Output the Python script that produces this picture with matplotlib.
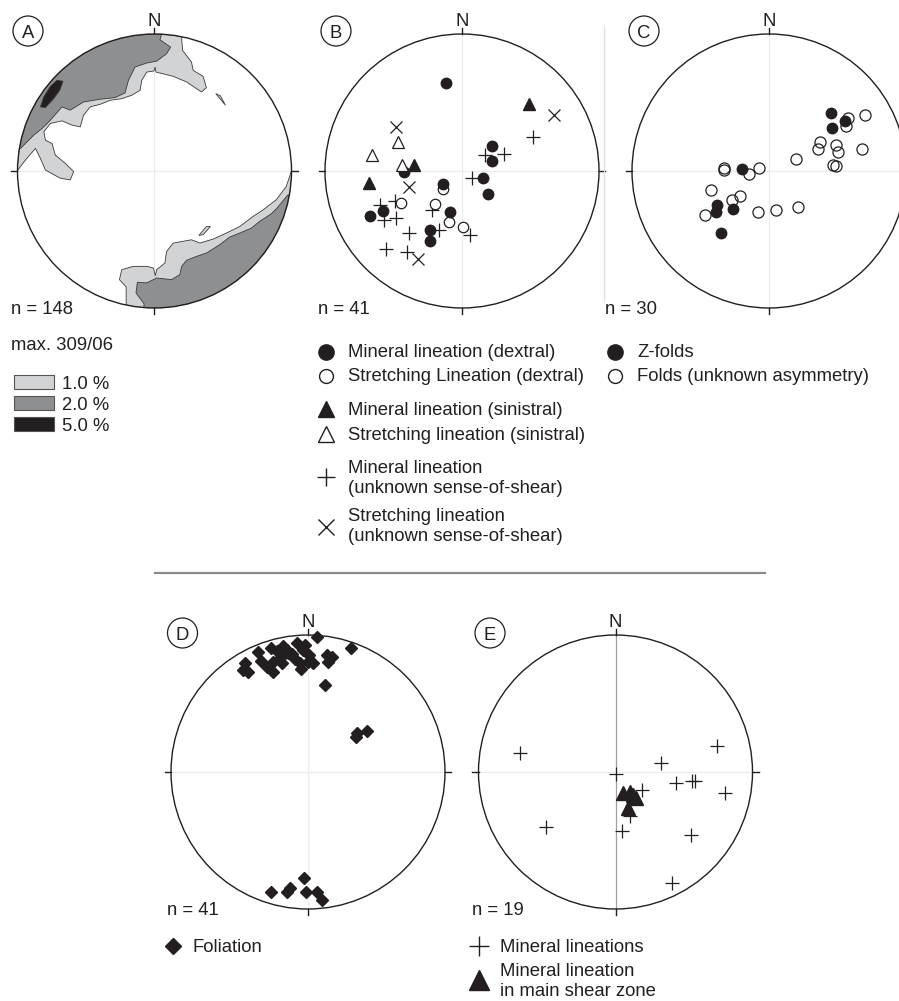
import numpy as np
import matplotlib
matplotlib.use("Agg")
import matplotlib.pyplot as plt
from matplotlib.patches import Circle, Ellipse, Polygon
from matplotlib.lines import Line2D

# ---- data: positions in the equal-area net, unit radius (east, north) ----

# B: lineations
b_min_dextral = np.array([
    (-0.12, 0.64), (0.22, 0.18), (0.22, 0.07), (0.15, -0.05), (0.19, -0.17),
    (-0.42, -0.005), (-0.14, -0.095), (-0.09, -0.30), (-0.23, -0.43),
    (-0.23, -0.51), (-0.58, -0.29), (-0.67, -0.33)])
b_str_dextral = np.array([
    (-0.14, -0.13), (-0.445, -0.23), (-0.20, -0.24), (-0.095, -0.375), (0.01, -0.41)])
b_min_sinistral = np.array([(0.49, 0.49), (-0.35, 0.044), (-0.68, -0.09)])
b_str_sinistral = np.array([(-0.47, 0.21), (-0.655, 0.12), (-0.436, 0.044)])
b_min_unknown = np.array([
    (0.52, 0.25), (0.17, 0.12), (0.31, 0.124), (0.07, -0.05), (-0.60, -0.25),
    (-0.49, -0.22), (-0.48, -0.34), (-0.57, -0.36), (-0.22, -0.285),
    (-0.17, -0.43), (-0.385, -0.455), (0.06, -0.47), (-0.555, -0.57),
    (-0.40, -0.59)])
b_str_unknown = np.array([(0.67, 0.41), (-0.48, 0.32), (-0.39, -0.12), (-0.32, -0.645)])

# C: fold axes
c_zfolds = np.array([
    (0.45, 0.425), (0.555, 0.365), (0.46, 0.316), (-0.195, 0.012),
    (-0.38, -0.25), (-0.39, -0.30), (-0.265, -0.277), (-0.35, -0.45)])
c_folds = np.array([
    (0.70, 0.41), (0.58, 0.385), (0.56, 0.33), (0.37, 0.214), (0.355, 0.158),
    (0.49, 0.19), (0.50, 0.136), (0.68, 0.163), (0.47, 0.044), (0.49, 0.036),
    (0.195, 0.085), (-0.33, 0.024), (-0.33, 0.007), (-0.144, -0.022),
    (-0.07, 0.02), (-0.42, -0.14), (-0.21, -0.18), (-0.27, -0.21),
    (-0.47, -0.32), (-0.08, -0.30), (0.05, -0.285), (0.21, -0.265)])

# D: poles to foliation
d_foliation = np.array([
    (0.068, 0.983), (0.312, 0.903), (-0.078, 0.939), (-0.022, 0.927),
    (-0.18, 0.92), (-0.27, 0.907), (-0.228, 0.883), (-0.367, 0.878),
    (-0.343, 0.812), (-0.46, 0.798), (-0.472, 0.745), (-0.436, 0.732),
    (-0.253, 0.805), (-0.204, 0.83), (-0.253, 0.732), (-0.119, 0.859),
    (-0.095, 0.823), (-0.058, 0.793), (-0.053, 0.75), (0.009, 0.854),
    (0.002, 0.805), (0.141, 0.854), (0.173, 0.837), (0.148, 0.805),
    (0.124, 0.635), (-0.144, 0.866), (-0.30, 0.769), (-0.155, 0.89),
    (-0.192, 0.793), (-0.036, 0.89), (0.036, 0.796),
    (0.428, 0.30), (0.36, 0.287), (0.35, 0.253),
    (-0.03, -0.776), (-0.13, -0.845), (-0.155, -0.874), (-0.27, -0.878),
    (-0.015, -0.878), (0.064, -0.874), (0.10, -0.934)])

# E: mineral lineations
e_min = np.array([
    (-0.695, 0.136), (0.743, 0.19), (0.33, 0.068), (0.004, -0.017),
    (0.44, -0.083), (0.556, -0.066), (0.58, -0.066), (0.80, -0.15),
    (0.19, -0.13), (0.106, -0.32), (0.05, -0.43), (-0.51, -0.40),
    (0.55, -0.46), (0.41, -0.81)])
e_shear = np.array([(0.057, -0.15), (0.106, -0.144), (0.13, -0.17),
                    (0.15, -0.19), (0.09, -0.265)])

# A: density contours (inner boundaries; the rest follows the primitive)
a_1pct_nw = np.array([
    (-0.998, 0.007), (-0.942, 0.08), (-0.869, 0.165), (-0.833, 0.092),
    (-0.796, 0.007), (-0.687, -0.053), (-0.615, -0.065), (-0.59, -0.005),
    (-0.651, 0.056), (-0.724, 0.116), (-0.748, 0.201), (-0.796, 0.225),
    (-0.808, 0.286), (-0.76, 0.347), (-0.675, 0.366), (-0.602, 0.335),
    (-0.542, 0.322), (-0.518, 0.407), (-0.469, 0.468), (-0.396, 0.487),
    (-0.324, 0.516), (-0.239, 0.528), (-0.166, 0.553), (-0.105, 0.589),
    (-0.093, 0.662), (-0.057, 0.722), (-0.004, 0.73), (0.004, 0.759),
    (0.011, 0.722), (0.137, 0.691), (0.234, 0.65), (0.343, 0.577),
    (0.379, 0.608), (0.355, 0.691), (0.282, 0.735), (0.27, 0.795),
    (0.205, 0.88), (0.198, 0.972)])
a_2pct_nw = np.array([
    (-0.978, 0.165), (-0.881, 0.262), (-0.821, 0.31), (-0.76, 0.371),
    (-0.675, 0.468), (-0.615, 0.444), (-0.518, 0.504), (-0.396, 0.524),
    (-0.287, 0.536), (-0.215, 0.57), (-0.19, 0.662), (-0.142, 0.759),
    (-0.057, 0.788), (0.016, 0.802), (0.088, 0.856), (0.118, 0.904),
    (0.04, 0.958), (0.052, 1.0)])
a_5pct = np.array([
    (-0.833, 0.468), (-0.808, 0.541), (-0.76, 0.618), (-0.712, 0.662),
    (-0.668, 0.655), (-0.692, 0.589), (-0.736, 0.528), (-0.796, 0.463)])
a_1pct_se = np.array([
    (1.0, 0.0), (0.961, -0.114), (0.888, -0.211), (0.792, -0.284),
    (0.719, -0.332), (0.622, -0.405), (0.525, -0.453), (0.428, -0.497),
    (0.331, -0.526), (0.27, -0.502), (0.137, -0.526), (0.088, -0.587),
    (0.076, -0.672), (0.016, -0.72), (0.006, -0.764), (-0.008, -0.708),
    (-0.057, -0.696), (-0.154, -0.696), (-0.239, -0.72), (-0.256, -0.793),
    (-0.207, -0.846), (-0.207, -0.975)])
a_2pct_se = np.array([
    (0.973, -0.175), (0.893, -0.272), (0.852, -0.313), (0.767, -0.368),
    (0.707, -0.417), (0.622, -0.453), (0.549, -0.482), (0.476, -0.538),
    (0.379, -0.599), (0.307, -0.623), (0.234, -0.652), (0.198, -0.696),
    (0.185, -0.756), (0.125, -0.793), (0.016, -0.781), (-0.057, -0.817),
    (-0.125, -0.812), (-0.135, -0.89), (-0.076, -0.97)])
a_1pct_ne_patch = np.array([(0.447, 0.565), (0.481, 0.548), (0.518, 0.48)])
a_1pct_se_patch = np.array([(0.324, -0.47), (0.379, -0.405), (0.408, -0.405),
                            (0.355, -0.465)])

contour_levels = ["1.0 %", "2.0 %", "5.0 %"]
contour_colors = ["#d2d3d5", "#8e8f91", "#231f20"]

INK = "#231f20"
FONT = "Liberation Sans"
FS = 13.3
W, H = 899, 1001
R = 137

fig = plt.figure(figsize=(W / 100, H / 100), dpi=100)


def fx(x):
    return x / W


def fy(y):
    return 1 - y / H


def text(x, y, s, **kw):
    fig.text(fx(x), fy(y), s, fontsize=FS, family=FONT, color=INK,
             ha=kw.pop("ha", "left"), va=kw.pop("va", "baseline"), **kw)


def net(cx, cy, vline="#ececec"):
    pad = 1.12
    ax = fig.add_axes([(cx - pad * R) / W, (H - cy - pad * R) / H,
                       2 * pad * R / W, 2 * pad * R / H])
    ax.set_xlim(-pad, pad)
    ax.set_ylim(-pad, pad)
    ax.set_aspect("equal")
    ax.axis("off")
    ax.plot([-1, 1], [0, 0], color="#ececec", lw=0.8, zorder=1)
    ax.plot([0, 0], [-1, 1], color=vline, lw=0.9, zorder=1)
    t = 0.045
    for x0, y0, x1, y1 in [(-1 - t, 0, -1, 0), (1, 0, 1 + t, 0),
                           (0, 1, 0, 1 + t), (0, -1 - t, 0, -1)]:
        ax.plot([x0, x1], [y0, y1], color=INK, lw=1.0, clip_on=False)
    prim = Circle((0, 0), 1, fill=False, ec=INK, lw=1.0, zorder=5)
    ax.add_patch(prim)
    fig.text(fx(cx), fy(cy - R - 8), "N", fontsize=FS, family=FONT,
             color=INK, ha="center", va="baseline")
    return ax


def arc(a0, a1, n=80):
    t = np.radians(np.linspace(a0, a1, n))
    return np.column_stack([np.cos(t), np.sin(t)])


def ang(p):
    return np.degrees(np.arctan2(p[1], p[0]))


def region(ax, pts, color, a_start, a_end):
    poly = np.vstack([pts, arc(a_start, a_end)])
    patch = Polygon(poly, closed=True, fc=color, ec="#3a3a3a", lw=0.6, zorder=2)
    ax.add_patch(patch)
    patch.set_clip_path(Circle((0, 0), 1, transform=ax.transData))


def badge(x, y, s):
    fig.add_artist(Ellipse((fx(x), fy(y)), 30 / W, 30 / H, fill=False,
                           ec=INK, lw=0.9, transform=fig.transFigure))
    text(x, y + 6.6, s, ha="center")


def key(x, y, marker, ms, filled=True, mew=1.0):
    fig.add_artist(Line2D([fx(x)], [fy(y)], marker=marker, ms=ms,
                          mfc=INK if filled else "white", mec=INK, mew=mew,
                          ls="none", transform=fig.transFigure))


# ---- A: contoured lineations ----
ax = net(154.5, 171)
region(ax, a_1pct_nw, contour_colors[0], ang(a_1pct_nw[-1]), 180)
region(ax, a_2pct_nw, contour_colors[1], ang(a_2pct_nw[-1]), ang(a_2pct_nw[0]))
region(ax, a_1pct_se, contour_colors[0], ang(a_1pct_se[-1]), 0)
region(ax, a_2pct_se, contour_colors[1], ang(a_2pct_se[-1]), ang(a_2pct_se[0]))
for pts, col in [(a_5pct, contour_colors[2]), (a_1pct_ne_patch, contour_colors[0]),
                 (a_1pct_se_patch, contour_colors[0])]:
    ax.add_patch(Polygon(pts, closed=True, fc=col, ec="#3a3a3a", lw=0.6, zorder=3))
badge(28, 31, "A")
text(11, 314, "n = 148")
text(11, 350, "max. 309/06")
for i, (lab, col) in enumerate(zip(contour_levels, contour_colors)):
    yb = 389 + 21 * i
    fig.add_artist(matplotlib.patches.Rectangle(
        (fx(14), fy(yb)), 40 / W, 14 / H, fc=col, ec="#555555", lw=0.8,
        transform=fig.transFigure))
    text(62, yb, lab)

# ---- B: lineations with shear sense ----
ax = net(462, 171)
ms_b = 7.5
ax.plot(*b_min_unknown.T, "+", color=INK, ms=10, mew=0.9, clip_on=False)
ax.plot(*b_str_unknown.T, "x", color=INK, ms=8, mew=0.9, clip_on=False)
ax.plot(*b_str_dextral.T, "o", mfc="white", mec=INK, ms=ms_b, mew=0.9, clip_on=False)
ax.plot(*b_min_dextral.T, "o", color=INK, ms=ms_b, clip_on=False)
ax.plot(*b_str_sinistral.T, "^", mfc="white", mec=INK, ms=8, mew=0.9, clip_on=False)
ax.plot(*b_min_sinistral.T, "^", color=INK, ms=8, clip_on=False)
badge(336, 31, "B")
text(318, 314, "n = 41")
key(326, 351.5, "o", 11)
text(348, 357, "Mineral lineation (dextral)")
key(326, 376, "o", 10, filled=False)
text(348, 381, "Stretching Lineation (dextral)")
key(326, 409, "^", 11.5)
text(348, 415, "Mineral lineation (sinistral)")
key(326, 434, "^", 11.5, filled=False)
text(348, 440, "Stretching lineation (sinistral)")
key(326, 477, "+", 13, mew=1.0)
text(348, 473, "Mineral lineation")
text(348, 493, "(unknown sense-of-shear)")
key(326, 527, "x", 11, mew=1.0)
text(348, 521, "Stretching lineation")
text(348, 541, "(unknown sense-of-shear)")

# ---- C: fold axes ----
ax = net(769, 171)
ax.plot(*c_folds.T, "o", mfc="none", mec=INK, ms=8, mew=0.9, clip_on=False)
ax.plot(*c_zfolds.T, "o", color=INK, ms=7.5, clip_on=False)
badge(644, 31, "C")
text(605, 314, "n = 30")
key(615, 351.5, "o", 11)
text(637, 357, "Z-folds")
key(615, 376, "o", 10, filled=False)
text(637, 381, "Folds (unknown asymmetry)")
fig.add_artist(Line2D([fx(604), fx(604)], [fy(27), fy(300)], color="#dddddd",
                      lw=0.9, transform=fig.transFigure))

# separator between the two rows
fig.add_artist(Line2D([fx(155), fx(765)], [fy(573), fy(573)], color="#8a8a8a",
                      lw=1.6, transform=fig.transFigure))

# ---- D: foliation poles ----
ax = net(308, 772)
ax.plot(*d_foliation.T, "D", color=INK, ms=6, clip_on=False, zorder=6)
badge(182.5, 633, "D")
text(167, 915, "n = 41")
key(173, 945.5, "D", 8.5)
text(193, 952, "Foliation")

# ---- E: mineral lineations ----
ax = net(615.5, 772, vline="#a0a0a0")
ax.plot(*e_min.T, "+", color=INK, ms=10, mew=0.9, clip_on=False)
ax.plot(*e_shear.T, "^", color=INK, ms=10, clip_on=False)
badge(490, 633, "E")
text(472, 915, "n = 19")
key(479, 946, "+", 14, mew=1.0)
text(500, 952, "Mineral lineations")
key(479, 980, "^", 14)
text(500, 976.5, "Mineral lineation")
text(500, 996, "in main shear zone")

fig.savefig("out.png", dpi=100)
